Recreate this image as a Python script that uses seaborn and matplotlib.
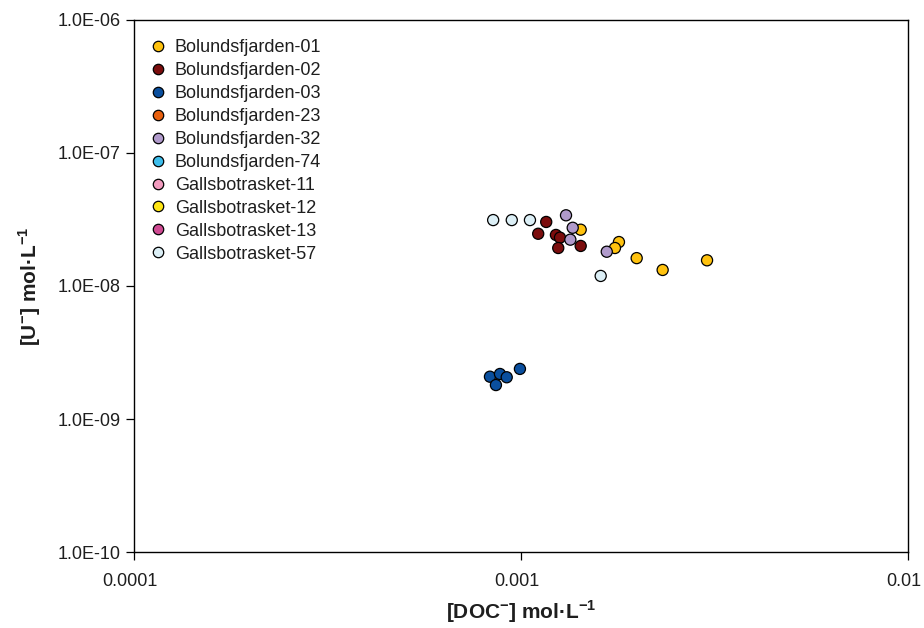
import matplotlib
matplotlib.use("Agg")
import matplotlib.pyplot as plt
from matplotlib.lines import Line2D
from matplotlib.ticker import FixedLocator, FuncFormatter, NullLocator
import matplotlib.transforms as mtransforms
import seaborn as sns
import pandas as pd

# Sampling sites shown in the legend (in order) and their marker colours
sites = [
    "Bolundsfjarden-01", "Bolundsfjarden-02", "Bolundsfjarden-03",
    "Bolundsfjarden-23", "Bolundsfjarden-32", "Bolundsfjarden-74",
    "Gallsbotrasket-11", "Gallsbotrasket-12", "Gallsbotrasket-13",
    "Gallsbotrasket-57",
]
site_colors = [
    "#FFC20E", "#7B0D0D", "#0A4F9E", "#E8600E", "#B09ACB",
    "#3DBDEB", "#F29BBE", "#FFE614", "#CF4A92", "#DCEFF6",
]

# DOC concentration (mol/L) and uranium concentration (mol/L) per site
doc_bol01 = [1.424e-3, 1.788e-3, 1.746e-3, 1.987e-3, 2.319e-3, 3.02e-3]
u_bol01 = [2.65e-8, 2.14e-8, 1.93e-8, 1.62e-8, 1.32e-8, 1.56e-8]

doc_bol02 = [1.160e-3, 1.106e-3, 1.229e-3, 1.259e-3, 1.246e-3, 1.424e-3]
u_bol02 = [3.03e-8, 2.47e-8, 2.42e-8, 2.31e-8, 1.93e-8, 2.00e-8]

doc_bol03 = [8.30e-4, 8.81e-4, 9.17e-4, 8.60e-4, 9.92e-4]
u_bol03 = [2.08e-9, 2.18e-9, 2.06e-9, 1.80e-9, 2.38e-9]

doc_bol32 = [1.305e-3, 1.358e-3, 1.339e-3, 1.663e-3]
u_bol32 = [3.40e-8, 2.74e-8, 2.23e-8, 1.81e-8]

doc_gal57 = [8.46e-4, 9.45e-4, 1.053e-3, 1.604e-3]
u_gal57 = [3.13e-8, 3.13e-8, 3.13e-8, 1.19e-8]

# x-axis and y-axis decade ticks
x_ticks = [1e-4, 1e-3, 1e-2]
y_ticks = [1e-10, 1e-9, 1e-8, 1e-7, 1e-6]

frames = []
for name, doc, u in [
    ("Bolundsfjarden-01", doc_bol01, u_bol01),
    ("Bolundsfjarden-02", doc_bol02, u_bol02),
    ("Bolundsfjarden-03", doc_bol03, u_bol03),
    ("Bolundsfjarden-32", doc_bol32, u_bol32),
    ("Gallsbotrasket-57", doc_gal57, u_gal57),
]:
    frames.append(pd.DataFrame({"site": name, "doc": doc, "u": u}))
df = pd.concat(frames, ignore_index=True)

sns.set_theme(style="white")
plt.rcParams["font.family"] = ["Liberation Sans", "DejaVu Sans"]
plt.rcParams["mathtext.fontset"] = "custom"
plt.rcParams["mathtext.rm"] = "Liberation Sans"
plt.rcParams["mathtext.bf"] = "Liberation Sans:bold"

palette = dict(zip(sites, site_colors))

fig = plt.figure(figsize=(9.24, 6.28), dpi=100)
ax = fig.add_axes([0.1453, 0.1210, 0.8377, 0.8472])

sns.scatterplot(
    data=df, x="doc", y="u", hue="site", hue_order=sites, palette=palette,
    s=64, edgecolor="black", linewidth=0.9, legend=False, ax=ax, zorder=3,
)

ax.set_xscale("log")
ax.set_yscale("log")
ax.set_xlim(1e-4, 1e-2)
ax.set_ylim(1e-10, 1e-6)

ax.xaxis.set_major_locator(FixedLocator(x_ticks))
ax.yaxis.set_major_locator(FixedLocator(y_ticks))
ax.xaxis.set_minor_locator(NullLocator())
ax.yaxis.set_minor_locator(NullLocator())
ax.xaxis.set_major_formatter(FuncFormatter(lambda v, p: f"{v:g}"))
ax.yaxis.set_major_formatter(FuncFormatter(lambda v, p: f"{v:.1E}"))

ax.tick_params(axis="both", which="major", direction="out", length=6,
               width=0.9, color="black", labelsize=13, labelcolor="#1e1e1e",
               pad=4, left=True, bottom=True)
ax.tick_params(axis="x", pad=9)

# nudge the x tick labels slightly left so the last one stays inside the figure
shift = mtransforms.ScaledTranslation(-4 / 100, 0, fig.dpi_scale_trans)
for lbl in ax.get_xticklabels():
    lbl.set_transform(lbl.get_transform() + shift)

for sp in ax.spines.values():
    sp.set_visible(True)
    sp.set_color("black")
    sp.set_linewidth(1.0)

ax.set_xlabel(r"[DOC$^{\mathbf{-}}$] mol·L$^{\mathbf{-1}}$", fontsize=15,
              fontweight="bold", color="#1e1e1e", labelpad=6)
ax.set_ylabel(r"[U$^{\mathbf{-}}$] mol·L$^{\mathbf{-1}}$", fontsize=15,
              fontweight="bold", color="#1e1e1e", labelpad=10)

handles = [
    Line2D([], [], marker="o", linestyle="none", markersize=7.5,
           markerfacecolor=c, markeredgecolor="black", markeredgewidth=0.9,
           label=n)
    for n, c in zip(sites, site_colors)
]
leg = ax.legend(handles=handles, loc="upper left", bbox_to_anchor=(0.0, 0.998),
                frameon=False, fontsize=13, handlelength=0.6,
                handletextpad=0.65, labelspacing=0.33, borderaxespad=0.6)
for t in leg.get_texts():
    t.set_color("#1e1e1e")

fig.savefig("out.png", dpi=100)
